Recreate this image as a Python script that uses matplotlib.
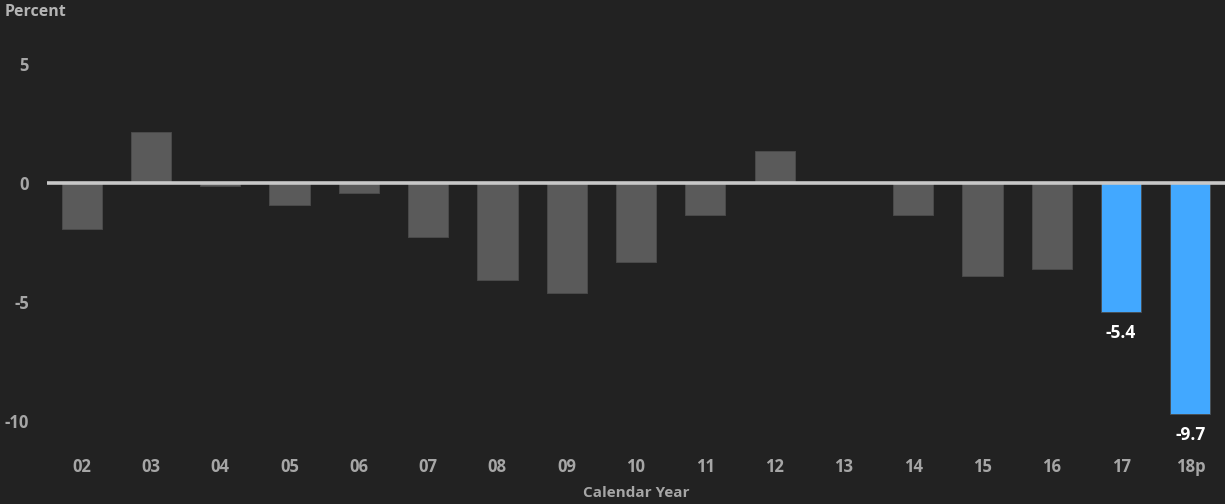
import numpy as np
import matplotlib
matplotlib.use("Agg")
import matplotlib.pyplot as plt

matplotlib.rcParams['font.family'] = ['Open Sans', 'DejaVu Sans']

years = ["02", "03", "04", "05", "06", "07", "08", "09", "10", "11",
         "12", "13", "14", "15", "16", "17", "18p"]
values = [-1.9, 2.15, -0.1, -0.9, -0.4, -2.25, -4.05, -4.6, -3.3, -1.35,
          1.35, 0.0, -1.35, -3.9, -3.6, -5.4, -9.7]
highlight = ["17", "18p"]

bg = '#222222'
grey_bar = '#5a5a5a'
blue_bar = '#42a8ff'
tick_col = '#a6a6a6'

fig = plt.figure(figsize=(12.25, 5.04), dpi=100, facecolor=bg)
ax = fig.add_axes([0.0384, 0.1169, 0.9616, 0.85])
ax.set_facecolor(bg)

x = np.arange(len(years))
colors = [blue_bar if y in highlight else grey_bar for y in years]
ax.bar(x, values, width=0.58, color=colors, edgecolor='#4c4c4c', linewidth=0.6, zorder=2)
ax.axhline(0, color='#c8c8c8', linewidth=2.6, zorder=3)

# value labels on the highlighted bars
for xi, y, v in zip(x, years, values):
    if y in highlight:
        ax.annotate("%.1f" % v, (xi, v), xytext=(0, -15), textcoords='offset points',
                    ha='center', va='center', color='white', fontsize=12.5, fontweight='bold')

ax.set_xlim(-0.5, len(years) - 0.5)
ax.set_ylim(-11, 7)
ax.set_xticks(x)
ax.set_xticklabels(years)
ax.set_yticks([5, 0, -5, -10])
ax.set_yticklabels(["5", "0", "-5", "-10"])
ax.tick_params(axis='both', length=0, colors=tick_col, labelsize=12)
ax.tick_params(axis='x', pad=9)
ax.tick_params(axis='y', pad=13)
for lab in ax.get_xticklabels() + ax.get_yticklabels():
    lab.set_fontweight('bold')
for s in ax.spines.values():
    s.set_visible(False)

fig.text(0.004, 0.976, "Percent", color='#b4b4b4', fontsize=11.5, fontweight='bold',
         ha='left', va='center')
fig.text(0.519, 0.022, "Calendar Year", color=tick_col, fontsize=11, fontweight='bold',
         ha='center', va='center')

plt.savefig("out.png", dpi=100, facecolor=bg)
plt.close()
